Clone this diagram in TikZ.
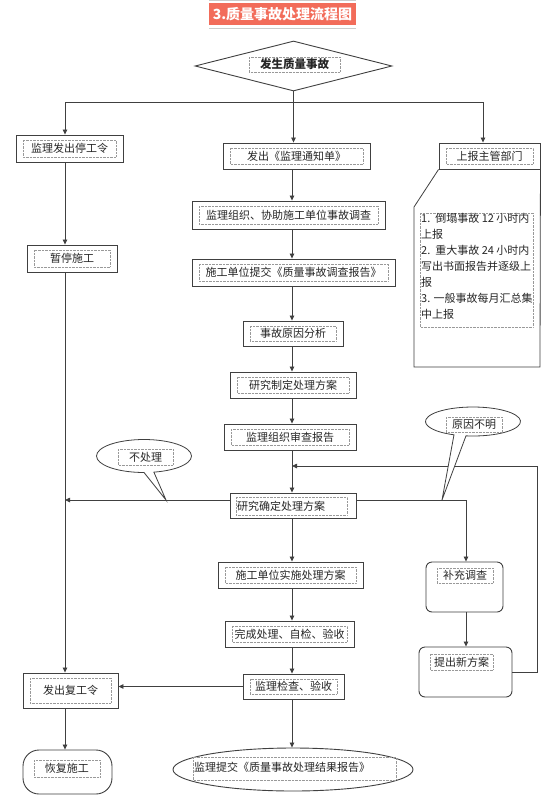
\documentclass[tikz,border=0pt]{standalone}
\usepackage{fontspec}
\setmainfont{Noto Sans CJK SC}
\usetikzlibrary{arrows.meta,shapes.geometric,calc}
\definecolor{titlebg}{RGB}{242,108,90}
\newcommand\bbox[6]{%
  \node[box, minimum width={(#4)-(#2)}, minimum height={(#5)-(#3)}] (#1) at ({((#2)+(#4))/2},{((#3)+(#5))/2}) {};
  \draw[innerf] ({(#2)+7},{(#3)+5}) rectangle ({(#4)-7},{(#5)-5});
  \node[txt] at (#1) {#6};
}
\begin{document}
\begin{tikzpicture}[x=1pt,y=-1pt,
  line/.style={draw=black!75, line width=0.8pt},
  box/.style={rectangle, draw=black!75, line width=0.9pt, fill=white, inner sep=0pt},
  innerf/.style={draw=black!40, line width=0.4pt, densely dotted},
  txt/.style={font=\fontsize{11}{13}\selectfont, text=black!85, inner sep=0pt},
  arr/.style={line, -{Triangle[length=5pt,width=4.5pt]}},
]
\fill[white] (0,0) rectangle (544,801);
\useasboundingbox (0,0) rectangle (544,801);

% title
\draw[black!20, line width=0.8pt] (209,0.6) -- (356,0.6) (209,28) -- (356,28);
\fill[titlebg] (209,3) rectangle (356,25);
\node[inner sep=0pt, font=\bfseries\fontsize{14}{16}\selectfont, text=white] (title) at (282.5,14) {3.质量事故处理流程图};

% start diamond
\node[diamond, draw=black!75, line width=0.9pt, fill=white, minimum width=197pt, minimum height=50pt, inner sep=0pt] (d) at (293.5,66) {};
\draw[innerf] (249,57) rectangle (340,72);
\node[txt, font=\bfseries\fontsize{11.5}{13}\selectfont] at (294.5,64.5) {发生质量事故};

% column coordinates
\coordinate (j) at (293.5,102);
\coordinate (L) at (65,0);
\coordinate (C) at (292,0);
\coordinate (R) at (466,0);
\coordinate (RR) at (537,0);
\coordinate (T) at (483,0);
\coordinate (Y) at (0,500);
\coordinate (Y2) at (0,466);

% left column
\bbox{stop}{16}{135}{123}{162}{监理发出停工令}
\bbox{pause}{27}{245}{117}{272}{暂停施工}
\bbox{resume}{23}{673}{118}{708}{发出复工令}
\node[box, rounded corners=16pt, minimum width=89pt, minimum height=44pt] (work) at (67.5,772) {};
\draw[innerf] (34,760) rectangle (100,777);
\node[txt] at (67,768.5) {恢复施工};

% center column
\bbox{n1}{223}{143}{370}{169}{发出《监理通知单》}
\bbox{n2}{192}{201}{385}{229}{监理组织、协助施工单位事故调查}
\bbox{n3}{192}{259}{395}{286}{施工单位提交《质量事故调查报告》}
\bbox{n4}{243}{321}{343}{346}{事故原因分析}
\bbox{n5}{230}{372}{356}{398}{研究制定处理方案}
\bbox{n6}{224}{424}{356}{450}{监理组织审查报告}
\node[box, minimum width=126pt, minimum height=25pt] (n7) at (293,505.5) {};
\draw[innerf] (236,497) rectangle (347,515);
\node[txt, anchor=west] at (237,506) {研究确定处理方案};
\bbox{n8}{218}{562}{363}{588}{施工单位实施处理方案}
\bbox{n9}{225}{621}{354}{647}{完成处理、自检、验收}
\bbox{n10}{243}{674}{344}{699}{监理检查、验收}
\node[ellipse, draw=black!75, line width=0.9pt, fill=white, minimum width=240pt, minimum height=43pt, inner sep=0pt] (n11) at (293,769.5) {};
\draw[innerf] (193,757) rectangle (396,780);
\node[txt, anchor=west] at (194,767) {监理提交《质量事故处理结果报告》};

% right column
\bbox{rep}{439}{143}{540}{169}{上报主管部门}
\draw[line] (rep.south west) -- (414,207) -- (414,367) -- (540,367) -- (rep.south east);
\draw[innerf] (420,213) rectangle (533,327);
\node[txt, anchor=north west, align=left, font=\fontsize{11}{16}\selectfont] (note) at (421,213)
  {1.\ \ 倒塌事故 12 小时内\\上报\\2.\ \ 重大事故 24 小时内\\写出书面报告并逐级上\\报\\3. 一般事故每月汇总集\\中上报};
\node[box, rounded corners=6pt, minimum width=77pt, minimum height=50pt] (sup) at (464.5,587) {};
\draw[innerf] (437,568) rectangle (493,583);
\node[txt] at (465,575.5) {补充调查};
\node[box, rounded corners=6pt, minimum width=93pt, minimum height=50pt] (new) at (465.5,672) {};
\draw[innerf] (430,654) rectangle (493,670);
\node[txt] at (461.5,662) {提出新方案};

% connectors
\draw[line] (d.south) -- (j);
\draw[arr] (d.south) -- (d.south |- n1.north);
\draw[arr] (j) -| (L |- stop.north);
\draw[arr] (j) -| (T |- rep.north);
\draw[arr] (L |- stop.south) -- (L |- pause.north);
\draw[arr] (L |- pause.south) -- (L |- resume.north);
\draw[arr] (L |- resume.south) -- (L |- work.north);
\draw[arr] (C |- n1.south) -- (C |- n2.north);
\draw[arr] (C |- n2.south) -- (C |- n3.north);
\draw[arr] (C |- n3.south) -- (C |- n4.north);
\draw[arr] (C |- n4.south) -- (C |- n5.north);
\draw[arr] (C |- n5.south) -- (C |- n6.north);
\draw[arr] (C |- n6.south) -- (C |- n7.north);
\draw[arr] (C |- n7.south) -- (C |- n8.north);
\draw[arr] (C |- n8.south) -- (C |- n9.north);
\draw[arr] (C |- n9.south) -- (C |- n10.north);
\draw[arr] (C |- n10.south) -- (C |- n11.north);
\draw[arr] (n7.west |- Y) -- (L |- Y);
\draw[arr] (n10.west) -- (resume.east |- n10.west);
\draw[arr] (n7.east |- Y) -| (R |- sup.north);
\draw[arr] (R |- sup.south) -- (R |- new.north);
\draw[arr] (new.east) -| (RR |- Y2) -- (C |- Y2);

% speech bubbles
\draw[line, fill=white] (144,456) ++(78:47.5 and 16.5) arc[start angle=78, end angle=-270, x radius=47.5, y radius=16.5] -- (166,500) -- cycle;
\draw[innerf] (118,449) rectangle (173,465);
\node[txt] (nb) at (145.5,457) {不处理};
\draw[line, fill=white] (473,421.5) ++(98.5:47.5 and 14.5) arc[start angle=98.5, end angle=-246.4, x radius=47.5, y radius=14.5] -- (442,500) -- cycle;
\draw[innerf] (446,417) rectangle (502,432);
\node[txt] (yb) at (474,424.5) {原因不明};
\end{tikzpicture}
\end{document}
